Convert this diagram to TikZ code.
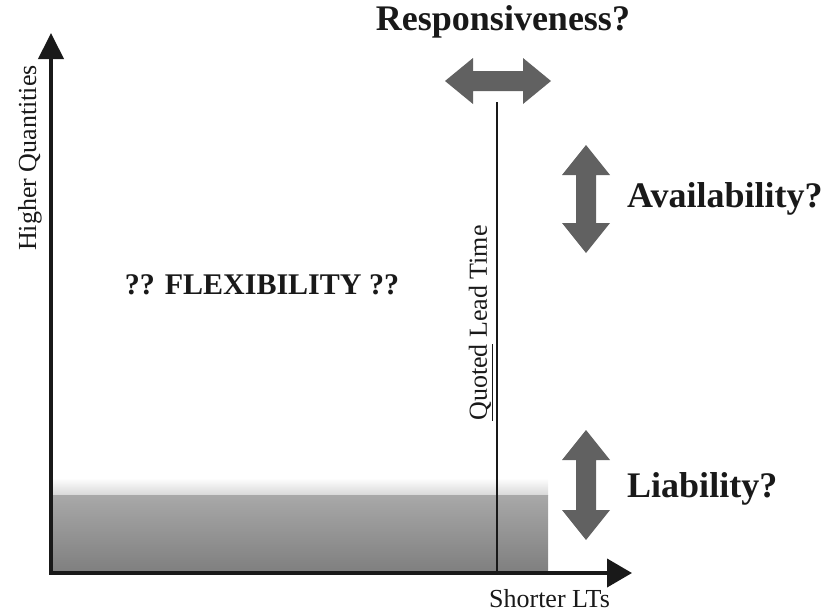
\documentclass[tikz,border=0pt]{standalone}
\usepackage{fontspec}
\setmainfont{Liberation Serif}
\usetikzlibrary{arrows.meta}
\definecolor{axiscol}{gray}{0.1}
\definecolor{arrowfill}{gray}{0.38}
\definecolor{bandtop}{gray}{0.66}
\definecolor{bandbot}{gray}{0.50}
\begin{document}
\begin{tikzpicture}[x=1pt,y=-1pt,
  axis/.style={draw=axiscol, line width=4pt, line join=miter},
  lbl/.style={inner sep=0pt, font=\fontsize{26}{30}\selectfont, text=axiscol},
  big/.style={inner sep=0pt, font=\fontsize{36}{40}\selectfont\bfseries, text=axiscol},
  fatarrow/.style={fill=arrowfill},
  leadline/.style={draw=axiscol, line width=1.4pt}]
\useasboundingbox (0,0) rectangle (832,613);

% axes
\coordinate (ytip) at (51,33);
\coordinate (origin) at (51,573);
\coordinate (xtip) at (632,573);

% inventory band along the horizontal axis
\shade[top color=white, bottom color=bandtop!45] (53,478) rectangle (548,495);
\shade[top color=bandtop, bottom color=bandbot] (53,495) rectangle (548,571);

\draw[axis, {Triangle[length=26pt,width=25pt]}-{Triangle[length=25pt,width=28pt]}]
  (ytip) |- (xtip);

% quoted lead time marker
\coordinate (qtop) at (497,102);
\coordinate (qbot) at (497,573);
\draw[leadline] (qtop) -- (qbot);

% axis labels
\node[lbl, rotate=90] (yl) at (30,158) {Higher Quantities};
\node[lbl, anchor=base] (xl) at (549.5,607) {Shorter LTs};
\node[lbl, rotate=90] (ql) at (481,323) {\underline{Quoted} Lead Time};

% centre text
\node[inner sep=0pt, anchor=base, font=\fontsize{30}{33}\selectfont\bfseries, text=axiscol]
  (flex) at (262,294) {?? FLEXIBILITY ??};

% responsiveness: horizontal double arrow
\fill[fatarrow] (445,81) -- (473,58) -- (473,71) -- (523,71) -- (523,58) -- (551,81)
  -- (523,104) -- (523,91) -- (473,91) -- (473,104) -- cycle;
\node[big, anchor=base] (resp) at (503,30) {Responsiveness?};

% availability: vertical double arrow
\fill[fatarrow] (586,145) -- (610,175) -- (596,175) -- (596,223) -- (610,223) -- (586,253)
  -- (562,223) -- (576,223) -- (576,175) -- (562,175) -- cycle;
\node[big, anchor=base west] (avail) at (627,207) {Availability?};

% liability: vertical double arrow
\fill[fatarrow] (586,430) -- (610,460) -- (596,460) -- (596,510) -- (610,510) -- (586,540)
  -- (562,510) -- (576,510) -- (576,460) -- (562,460) -- cycle;
\node[big, anchor=base west] (liab) at (627,497) {Liability?};
\end{tikzpicture}
\end{document}
